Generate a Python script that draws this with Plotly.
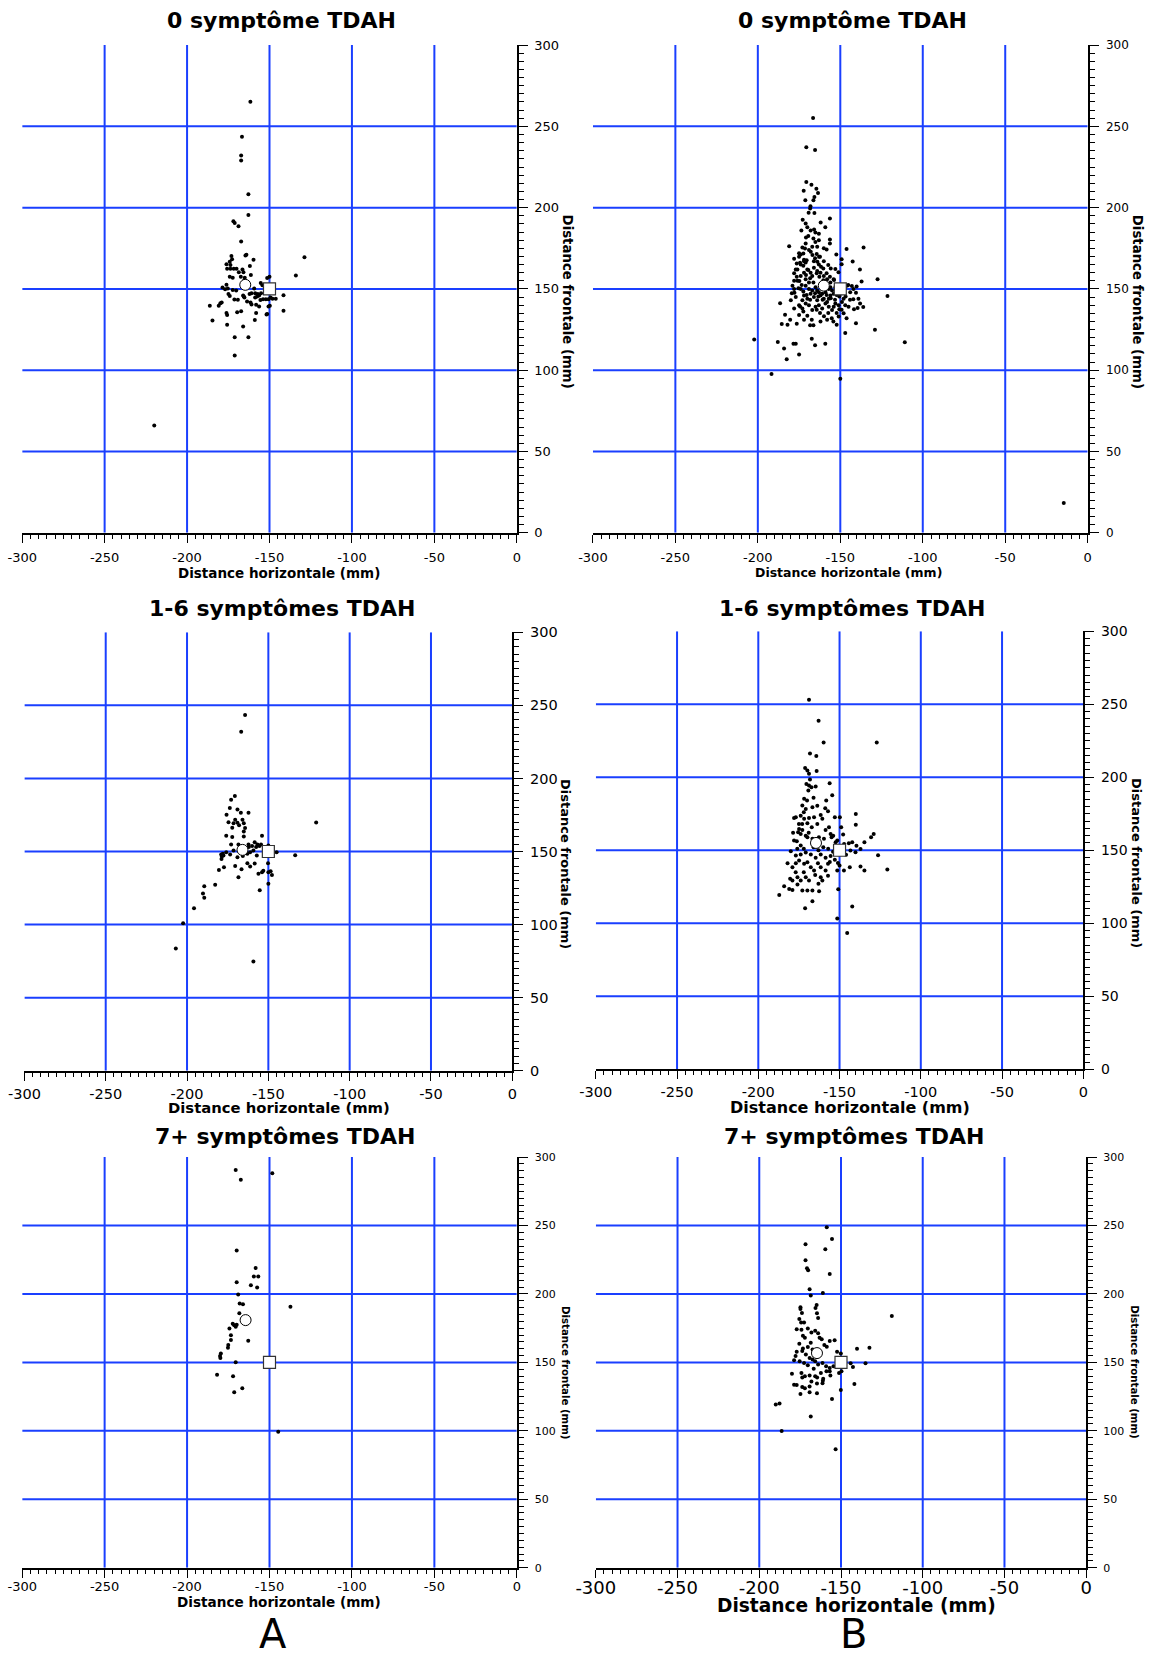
import plotly.graph_objects as go

W, H = 1156, 1654

# ---------------- data ----------------
X_TICKS = [-300, -250, -200, -150, -100, -50, 0]
Y_TICKS = [0, 50, 100, 150, 200, 250, 300]
X_TICK_TEXT = ["-300", "-250", "-200", "-150", "-100", "-50", "0"]
Y_TICK_TEXT = ["0", "50", "100", "150", "200", "250", "300"]
GRID_X = [-250, -200, -150, -100, -50]
GRID_Y = [50, 100, 150, 200, 250]
TARGET = (-150, 150)

TITLES = ["0 symptôme TDAH", "0 symptôme TDAH",
          "1-6 symptômes TDAH", "1-6 symptômes TDAH",
          "7+ symptômes TDAH", "7+ symptômes TDAH"]
X_TITLE = "Distance horizontale (mm)"
Y_TITLE = "Distance frontale (mm)"
GROUP_LABELS = ["A", "B"]

A_0 = [(-161.6,265.2),(-166.7,243.6),(-167.2,232),(-167.2,229),(-162.8,208.2),(-162.8,195.5),(-171.9,191.6),
       (-171.1,190.6),(-168.8,188.6),(-167.2,179.2),(-128.8,169.4),(-134.0,158.2),(-164.6,170.6),(-164.0,171),
       (-173.1,170.2),(-172.7,168.2),(-159.7,168),(-174.1,166.7),(-173.7,164.7),(-176.1,165.1),(-161.9,164.1),
       (-175.7,162.4),(-173.7,162.4),(-171.7,162.4),(-170.0,162.4),(-168.6,160.2),(-166.4,162),(-165.8,160.2),
       (-165.0,156.9),(-165.2,155.5),(-165.6,154.3),(-174.1,157.5),(-172.3,156.9),(-167.4,157.5),(-161.3,158.6),
       (-154.3,152.2),(-155.3,153.7),(-151.4,156.7),(-150.0,157.5),(-176.1,152.6),(-178.5,150.8),(-176.9,149.8),
       (-175.3,150.2),(-172.3,149.4),(-170.2,149),(-174.9,146.9),(-174.1,145.7),(-171.3,143.5),(-169.2,143.3),
       (-165.6,145.3),(-165.2,144.7),(-166.0,145.9),(-162.1,146.9),(-160.9,147.3),(-163.6,142.2),(-161.5,141.6),
       (-160.9,140.4),(-158.7,144.7),(-157.5,145.3),(-156.3,145.9),(-158.7,147.3),(-157.1,146.9),(-155.1,147.3),
       (-159.3,150.2),(-155.5,143.1),(-153.9,143.7),(-152.2,143.7),(-158.1,140.2),(-156.3,139.2),(-150.6,143.7),
       (-149.4,144.7),(-148.2,143.9),(-146.2,143.9),(-150.6,139.2),(-149.8,139.6),(-141.5,146.1),(-141.5,136.5),
       (-151.4,134.5),(-151.8,134.3),(-158.1,135.1),(-167.2,136.3),(-169.6,135.7),(-176.1,135.1),(-175.7,133.9),
       (-180.8,139.6),(-179.8,141.2),(-179.0,141.6),(-186.2,139.6),(-184.6,130.6),(-175.7,128),(-166.0,126.9),
       (-158.9,130.8),(-171.1,120.2),(-162.8,120.2),(-171.1,109),(-219.9,66)]

B_0 = [(-166.5,255.1),(-170.6,237.1),(-165.3,235.5),(-170.6,215.7),(-167.5,214.1),(-164.5,211.6),(-163.5,209),
       (-172.2,210.4),(-171.2,204.5),(-165.7,206.5),(-166.3,204.5),(-168.1,200.8),(-168.3,199.4),(-169.2,196.9),
       (-165.7,196.7),(-161.9,190.8),(-156.3,193.3),(-172.8,192.6),(-171.0,190.2),(-173.6,185.9),(-165.9,186.5),
       (-165.1,184.7),(-159.1,188),(-170.8,181.6),(-169.4,182.6),(-166.3,181),(-165.1,178.8),(-156.3,180.4),
       (-156.3,178),(-181,176.3),(-173,175.5),(-171.4,174.9),(-174,171.2),(-172.4,171.8),(-175,169.8),
       (-167.9,172.8),(-166.9,170.8),(-162.9,169.8),(-164.3,171.4),(-158.3,174.3),(-152.4,171.2),(-146.2,174.5),
       (-135.9,175.5),(-149.2,168.2),(-149.2,165.1),(-142.5,166.9),(-178,168.6),(-176.4,165.7),(-174.4,166.1),
       (-172.4,164.3),(-171,166.3),(-170.4,167.7),(-169.4,161.6),(-165.3,168.8),(-163.9,166.7),(-162.3,169.8),
       (-161.7,163.7),(-160.3,162.6),(-157.3,164.7),(-155.8,162.6),(-153,162.2),(-151.1,160.2),(-138.1,162),
       (-127.4,155.9),(-137.1,154.5),(-140.1,151.4),(-145.2,152.4),(-143,151.8),(-121.4,145.7),(-178,159.6),
       (-176.4,157.5),(-174.8,154.9),(-173.4,152.4),(-177.8,147.7),(-179.4,147.3),(-175.4,150.4),(-170.8,158.6),
       (-168.3,156.5),(-166.3,153.9),(-164.3,159.6),(-162.7,157.5),(-160.3,155.3),(-158.3,159.6),(-156.3,157.5),
       (-153.8,155.5),(-172.4,148.4),(-170.4,146.3),(-168.3,143.3),(-165.3,147.3),(-163.3,145.3),(-160.7,143.3),
       (-158.3,146.3),(-155.8,144.3),(-153.2,143.3),(-152.2,146.3),(-150.6,145.3),(-146.8,145.3),(-144.1,143.3),
       (-142.1,143.7),(-140.5,147.7),(-141.7,137.5),(-139.5,138.2),(-136.1,138.8),(-186.5,141.2),(-183.5,134.1),
       (-180.4,131),(-185.5,128.4),(-182,127.9),(-176.4,128.6),(-174.4,139.2),(-172.4,136.1),(-170,133.5),
       (-167.3,131),(-168.3,127.7),(-166.3,127.7),(-164.3,137.1),(-162.3,135.1),(-159.9,133.1),(-157.3,135.1),
       (-155.2,132),(-154.2,130),(-152.2,127.9),(-152.2,135.1),(-150.6,137.5),(-149.2,137.1),(-146.2,132),
       (-147,122.8),(-140.5,128.9),(-129,124.9),(-110.9,117.1),(-202.2,118.8),(-187.9,117.3),(-178.4,116.3),
       (-177,116.3),(-184.1,113.3),(-167.3,119.4),(-165.3,115.3),(-159.1,116.3),(-175,109.6),(-182.5,106.7),
       (-191.7,97.7),(-150,94.7),(-14.5,18.2),
       (-171,152),(-169,150),(-167,149),(-165,151),(-163,148),(-161,150),(-159,148),(-157,150),(-155,149),
       (-153,151),(-172,146),(-170,144),(-168,147),(-166,145),(-164,143),(-162,146),(-160,144),(-158,142),
       (-156,146),(-154,147),(-176,155),(-174,158),(-172,160),(-170,162),(-168,160),(-166,163),(-164,161),
       (-162,160),(-160,158),(-158,156),(-156,154),(-154,156),(-175,140),(-173,138),(-169,140),(-165,139),
       (-161,138),(-157,139),(-153,141),(-151,140),(-149,142),(-147,140),(-178,150),(-179,152),(-177,145),
       (-176,162),(-174,165),(-172,167),(-166,167),(-163,165),(-160,167),(-173,143),(-171,141),(-167,137),
       (-163,140),(-159,141),(-155,137),(-157,144),(-152,149),(-150,147),(-148,144),(-162,153),(-159,152),
       (-156,151),(-161,147),(-164,149),(-169,154),(-171,156),(-174,150),(-167,158),(-175,172),(-169,174),
       (-171,178),(-167,176),(-164,176),(-160,175),(-163,180),(-168,186),(-170,188),(-163,184),(-172,168),
       (-177,162),(-178,155),(-180,143),(-178,138),(-175,134),(-172,131),(-162,130),(-158,131),(-148,150),
       (-146,152),(-144,148),(-142,150),(-139,144),(-138,141),(-145,139),(-151,133),(-154,139),(-148,135)]

A_16 = [(-164.3,243.4),(-166.7,232),(-170.6,187.9),(-172.9,185.4),(-173.7,179.7),(-169,178.8),(-175.7,175.1),
        (-166.9,176.5),(-162.2,176.5),(-174.5,170.1),(-171.4,169.4),(-170.4,171.7),(-169,169.6),(-168,168),
        (-165.9,171.7),(-165.1,169.4),(-164.3,166),(-165.1,163.7),(-172.2,166.2),(-175.9,160.7),(-172.2,160),
        (-165.1,160.3),(-153.9,160.7),(-172.9,154.8),(-168.4,154.8),(-162.2,154.8),(-158.4,156.4),(-156.7,154.8),
        (-154.5,154.8),(-162,153),(-160,153.7),(-157.5,153),(-155.5,153.7),(-175.9,149.5),(-173.5,147.9),
        (-171.4,150.7),(-169,146.1),(-165.7,147),(-162.9,148.4),(-161.2,149.5),(-159.2,150.7),(-157.1,147.2),
        (-179,147.9),(-178.6,146.5),(-178.8,144.8),(-177.6,147.2),(-178,148.4),(-150,154.1),(-144.9,149.5),
        (-133.5,147.5),(-120.6,169.9),(-170.4,140),(-166.5,137.9),(-162.9,142),(-161.2,139.7),(-158.4,141.8),
        (-177.3,139.3),(-180.4,137.4),(-150.2,142),(-153.1,136.9),(-153.9,135.8),(-156.1,134.7),(-150,135.8),
        (-148.6,136.5),(-147.8,134),(-168.4,132.4),(-182.7,127.2),(-189.4,126.3),(-190.2,121.2),(-189.4,118.3),
        (-155.3,123.5),(-150,127.9),(-195.7,111.2),(-202.4,100.9),(-206.9,83.6),(-159.2,74.7)]

B_16 = [(-168.8,253),(-162.9,238.6),(-159.8,223.7),(-127.1,223.7),(-168.2,216.2),(-164.3,214.6),(-171.2,206.4),
        (-169.8,204.6),(-168.8,202.3),(-164.1,204.3),(-168.2,198.4),(-170.4,195.4),(-168.8,194.3),(-167.3,193.2),
        (-164.7,193.6),(-169.2,190.9),(-156.1,195.9),(-154.5,187.7),(-171.8,185.2),(-172.9,180.6),(-170.8,178.3),
        (-166.7,179.5),(-163.7,180.4),(-158.2,184),(-158.8,178.8),(-157.1,176.7),(-176.9,172.6),(-173.9,173.7),
        (-171.8,171.5),(-168.8,172.1),(-165.7,172.6),(-161.6,174.2),(-160.6,171.5),(-163.7,168),(-167.1,165.8),
        (-169.8,168.5),(-152.9,172.6),(-149.8,172.6),(-149,165.8),(-140,174.9),(-140,167.4),(-129,161.2),
        (-130.6,158.9),(-134.7,155.5),(-139.6,153),(-178.6,161.9),(-175.5,162.3),(-173.9,161.2),(-170.8,160),
        (-174.9,164.6),(-172.9,163.9),(-178,156.6),(-176.3,156.2),(-173.9,153.2),(-169.8,158.9),(-166.7,157.8),
        (-162.7,158.9),(-159.6,157.8),(-156.5,165.8),(-158.6,163.9),(-155.5,161.2),(-154.9,158.9),(-153.9,160),
        (-151.4,156.6),(-147.8,160.7),(-152.4,155.5),(-147.2,154.3),(-144.3,154.8),(-142.2,155.5),(-143.3,149.8),
        (-140.2,148.6),(-137.1,150.9),(-180,149.3),(-176.9,146.4),(-173.9,147.1),(-170.8,148.4),(-167.7,147.1),
        (-164.7,144.8),(-161.6,147.1),(-158.6,144.8),(-155.5,146),(-152.9,143.5),(-151,141.3),(-182,141.1),
        (-179,138.4),(-176.9,141.1),(-174.9,142.9),(-171.8,140.7),(-169.8,141.8),(-167.7,138.4),(-165.7,136.1),
        (-163.3,141.1),(-161.6,138.4),(-158.6,136.1),(-157.1,140.7),(-180.4,130.4),(-179,129.2),(-175.9,131.5),
        (-173.9,129.2),(-170.8,131.5),(-168.8,129.2),(-161.6,131.5),(-160.6,129.2),(-157.1,132.6),(-151.4,136.1),
        (-150,139.5),(-147.3,136.1),(-143.7,138.4),(-137.1,138.8),(-134.7,136.1),(-126.3,146.6),(-120.6,136.8),
        (-184.1,125.3),(-181,123.5),(-179,122.8),(-175.9,126.5),(-172.9,122.4),(-169.8,122.4),(-166.7,122.4),
        (-162.6,121.9),(-187.1,119.4),(-166.7,115),(-171.2,110.3),(-150.8,123.3),(-142.2,111.4),(-151.4,103.2),
        (-145.3,93.4),(-175,168),(-172,176),(-170,184),(-166,186),(-169,162),(-166,152),(-163,150),(-160,152),
        (-157,151),(-154,149),(-172,151),(-176,151),(-165,133),(-172,135),(-177,135),(-156,142),(-146,147),
        (-163,127),(-178,172),(-173,168)]

A_7 = [(-170.5,290.6),(-167.4,283.5),(-148.3,288.2),(-169.9,231.7),(-158.4,218.9),(-159.5,212.7),(-156.8,212.7),
       (-169.9,208.5),(-161.3,206.3),(-157.5,204.8),(-169,199.7),(-168.1,193),(-166.1,192.5),(-137.3,190.6),
       (-168.3,185.9),(-172.3,178.2),(-171.4,177.2),(-170.5,176),(-169.9,177.5),(-174.3,174.8),(-173.4,169.8),
       (-173.4,166.4),(-162.9,165.9),(-175,162.7),(-175.2,160.7),(-179.5,156.5),(-180,154.6),(-179.8,153.3),
       (-170.5,150.1),(-181.8,141),(-172.1,139.8),(-166.5,131.1),(-171.4,128.2),(-144.7,99.3)]

B_7 = [(-158.7,248.7),(-155.5,240.1),(-171.7,236.4),(-159.6,232.7),(-171.7,224.6),(-170.8,218.7),(-170.1,217.4),
       (-156.9,214.5),(-169.2,203.4),(-168.5,198.9),(-161.1,200.7),(-164.9,192),(-165.6,189.8),(-174.8,190.3),
       (-174.8,189.1),(-173.9,186.1),(-164.7,185.9),(-164,182.4),(-175.5,181.7),(-174.4,179.2),(-172.6,179.2),
       (-118.9,183.9),(-177.1,174.3),(-174.2,173.8),(-170.3,174.8),(-165.8,173.1),(-164,171.3),(-173.3,169.4),
       (-168.1,171.8),(-172.1,168.1),(-168.5,164.4),(-163.1,168.1),(-161.8,166.9),(-156.9,165.7),(-153.9,166.2),
       (-175.5,163.7),(-173.3,160.2),(-170.3,161.2),(-167.4,159.5),(-160.2,162.7),(-158.7,161.5),(-177.1,157.8),
       (-177.8,154.6),(-173.7,158.3),(-171.5,155.8),(-169.2,153.3),(-178.7,151.6),(-175.3,150.9),(-172.6,149.6),
       (-170.3,147.9),(-167.4,152.1),(-165.8,150.9),(-164,148.4),(-161.3,149.6),(-159.1,147.2),(-156.9,145.9),
       (-154.6,147.2),(-174.2,142.2),(-173.7,139),(-172.1,139.8),(-169.2,140.5),(-166.7,145.4),(-165.8,139.8),
       (-164.6,139),(-162.3,142.2),(-161.1,136.6),(-158.9,143.5),(-156.5,140.5),(-156.9,143.5),(-180,141.7),
       (-178.7,133.6),(-177.1,133.4),(-173.7,132.1),(-172.1,131.1),(-169.2,132.4),(-168.1,136.1),(-164.7,134.6),
       (-161.3,134.8),(-160.9,138),(-174.8,127),(-169.2,128.2),(-164.7,127.4),(-155.5,123.3),(-150.1,129.9),
       (-152.4,157.8),(-150.1,156.5),(-149.7,153.3),(-150.8,148.4),(-149.7,143.5),(-151.2,142.2),(-144.1,149.4),
       (-142.7,146.7),(-135,149.4),(-140.2,160),(-132.6,160.7),(-141.8,134.3),(-189.9,119.3),(-187.6,120),
       (-168.5,110.4),(-186.3,99.8),(-153.3,86.5)]

MEANS = [(-164.7, 152.5), (-160.0, 152.0), (-165.9, 151.1),
         (-164.5, 155.0), (-164.5, 180.9), (-164.7, 156.8)]

PANELS = [A_0, B_0, A_16, B_16, A_7, B_7]

# ---------------- layout geometry (pixels) ----------------
BOXES = [(22.2, 516.8, 45.1, 532.7), (592.9, 1087.7, 45.1, 532.7),
         (24.4, 512.3, 632.3, 1070.7), (595.8, 1083.3, 631.2, 1069.3),
         (22.2, 516.8, 1157.1, 1567.7), (595.8, 1086.2, 1157.1, 1567.7)]
TITLE_POS = [(281.5, 20), (852.6, 20), (281.5, 608.6), (852.2, 608.6), (285, 1136), (853.7, 1136)]
XT_SIZE = [13, 13, 14.5, 14.5, 13, 18]
YT_SIZE = [13, 12, 14.5, 14, 11, 11]
XT_STANDOFF = [4, 4, 1, 0, -2, -5]
YT_STANDOFF = [4, 5, 4, 4, 5, 4]
XTITLE_SIZE = [13.5, 12.5, 14.8, 16, 13.6, 18.6]
YTITLE_SIZE = [13.3, 13.3, 13, 13, 10.2, 10.2]
XTITLE_POS = [(279, 572.7), (848.7, 572.7), (278.6, 1107.8), (850.4, 1107), (278.6, 1601.7), (856.3, 1605.5)]
YTITLE_POS = [(567.9, 301.5), (1137.7, 301.5), (566, 864), (1136.6, 862.6), (566, 1372), (1134.7, 1372)]
GROUP_POS = [(272.8, 1634), (853.7, 1634)]

GRID_COLOR = "#1a3fff"
FONT = "DejaVu Sans"

fig = go.Figure()
layout = dict(width=W, height=H, margin=dict(l=0, r=0, t=0, b=0),
              paper_bgcolor="white", plot_bgcolor="white", template="none",
              showlegend=False, shapes=[], annotations=[])

def px2x(px):
    return px / W

def px2y(py):
    return 1 - py / H

for i, (pts, mean) in enumerate(zip(PANELS, MEANS)):
    k = i + 1
    sfx = "" if k == 1 else str(k)
    xa, ya = "x" + sfx, "y" + sfx
    xs = [p[0] for p in pts]
    ys = [p[1] for p in pts]
    fig.add_trace(go.Scatter(x=xs, y=ys, mode="markers", xaxis=xa, yaxis=ya,
                             marker=dict(size=4, color="black"), hoverinfo="skip"))
    fig.add_trace(go.Scatter(x=[TARGET[0]], y=[TARGET[1]], mode="markers", xaxis=xa, yaxis=ya,
                             marker=dict(symbol="square", size=12, color="white",
                                         line=dict(color="#333333", width=1.2)), hoverinfo="skip"))
    fig.add_trace(go.Scatter(x=[mean[0]], y=[mean[1]], mode="markers", xaxis=xa, yaxis=ya,
                             marker=dict(symbol="circle", size=11, color="white",
                                         line=dict(color="black", width=1)), hoverinfo="skip"))

    x0, x1, y0, y1 = BOXES[i]
    layout["xaxis" + sfx] = dict(
        domain=[px2x(x0), px2x(x1)], range=[-300, 0], anchor=ya, autorange=False,
        showgrid=False, zeroline=False, showline=True, linecolor="black", linewidth=1.6,
        ticks="outside", ticklen=8, tickwidth=1.4, tickcolor="black",
        tickmode="array", tickvals=X_TICKS, ticktext=X_TICK_TEXT,
        tickfont=dict(family=FONT, size=XT_SIZE[i], color="black"), ticklabelstandoff=XT_STANDOFF[i],
        minor=dict(tickmode="linear", tick0=-300, dtick=5, ticks="outside", ticklen=4,
                   tickwidth=1.1, tickcolor="black", showgrid=False),
        automargin=False, fixedrange=True)
    layout["yaxis" + sfx] = dict(
        domain=[px2y(y1), px2y(y0)], range=[0, 300], anchor=xa, side="right", autorange=False,
        showgrid=False, zeroline=False, showline=True, linecolor="black", linewidth=1.6,
        ticks="outside", ticklen=9, tickwidth=1.4, tickcolor="black",
        tickmode="array", tickvals=Y_TICKS, ticktext=Y_TICK_TEXT,
        tickfont=dict(family=FONT, size=YT_SIZE[i], color="black"), ticklabelstandoff=YT_STANDOFF[i],
        minor=dict(tickmode="linear", tick0=0, dtick=5, ticks="outside", ticklen=5,
                   tickwidth=1.1, tickcolor="black", showgrid=False),
        automargin=False, fixedrange=True)

    for gx in GRID_X:
        layout["shapes"].append(dict(type="line", xref=xa, yref=ya, x0=gx, x1=gx, y0=0, y1=300,
                                     line=dict(color=GRID_COLOR, width=2), layer="below"))
    for gy in GRID_Y:
        layout["shapes"].append(dict(type="line", xref=xa, yref=ya, x0=-300, x1=0, y0=gy, y1=gy,
                                     line=dict(color=GRID_COLOR, width=2), layer="below"))

    tx, ty = TITLE_POS[i]
    layout["annotations"].append(dict(text=TITLES[i], x=px2x(tx), y=px2y(ty), xref="paper", yref="paper",
                                      xanchor="center", yanchor="middle", showarrow=False,
                                      font=dict(family=FONT, size=22, color="black", weight="bold")))
    ax_, ay_ = XTITLE_POS[i]
    layout["annotations"].append(dict(text=X_TITLE, x=px2x(ax_), y=px2y(ay_), xref="paper", yref="paper",
                                      xanchor="center", yanchor="middle", showarrow=False,
                                      font=dict(family=FONT, size=XTITLE_SIZE[i], color="black", weight="bold")))
    bx_, by_ = YTITLE_POS[i]
    layout["annotations"].append(dict(text=Y_TITLE, x=px2x(bx_), y=px2y(by_), xref="paper", yref="paper",
                                      xanchor="center", yanchor="middle", showarrow=False, textangle=90,
                                      font=dict(family=FONT, size=YTITLE_SIZE[i], color="black", weight="bold")))

for lab, (gx, gy) in zip(GROUP_LABELS, GROUP_POS):
    layout["annotations"].append(dict(text=lab, x=px2x(gx), y=px2y(gy), xref="paper", yref="paper",
                                      xanchor="center", yanchor="middle", showarrow=False,
                                      font=dict(family=FONT, size=40, color="black")))

fig.update_layout(**layout)
fig.write_html("out.html", config={"displayModeBar": False},
               post_script="document.body.style.margin='0';document.body.style.overflow='hidden';")
